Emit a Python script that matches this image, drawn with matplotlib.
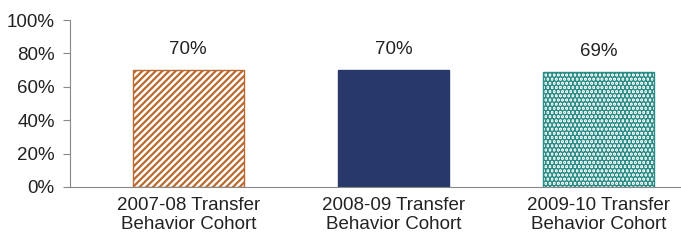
import matplotlib.pyplot as plt
from matplotlib.ticker import FuncFormatter

categories = ['2007-08 Transfer\nBehavior Cohort', '2008-09 Transfer\nBehavior Cohort',
              '2009-10 Transfer\nBehavior Cohort']
values = [70, 70, 69]
labels = ['70%', '70%', '69%']


def main():
    plt.rcParams['font.family'] = ['Liberation Sans', 'DejaVu Sans']
    fig = plt.figure(figsize=(6.81, 2.42), dpi=100)
    ax = fig.add_axes([0.1028, 0.2273, 0.8972, 0.69])

    x = range(len(values))
    styles = [
        (1.6, dict(facecolor='white', edgecolor='#BA6A30', hatch='/////')),
        (1.0, dict(facecolor='#29386A', edgecolor='#29386A', hatch=None)),
        (3.0, dict(facecolor='white', edgecolor='#2A8C86', hatch='....')),
    ]
    for i, v in enumerate(values):
        hlw, st = styles[i]
        bars = ax.bar(i, v, width=0.54, linewidth=1.0, **st)
        for b in bars:
            b.set_hatch_linewidth(hlw)
        ax.text(i, v + 7, labels[i], ha='center', va='bottom', fontsize=13.5, color='#222222')

    ax.set_ylim(0, 100)
    ax.set_xlim(-0.576, 2.4)
    ax.set_yticks([0, 20, 40, 60, 80, 100])
    ax.yaxis.set_major_formatter(FuncFormatter(lambda v, p: '%d%%' % v))
    ax.set_xticks(list(x))
    ax.set_xticklabels(categories, linespacing=1.15)
    ax.tick_params(axis='y', length=5, color='#888888', labelsize=13.5, labelcolor='#222222', pad=6)
    ax.tick_params(axis='x', length=0, labelsize=13.5, labelcolor='#222222', pad=7)
    for s in ['top', 'right']:
        ax.spines[s].set_visible(False)
    for s in ['left', 'bottom']:
        ax.spines[s].set_color('#888888')

    plt.savefig('out.png', dpi=100)


if __name__ == '__main__':
    main()
